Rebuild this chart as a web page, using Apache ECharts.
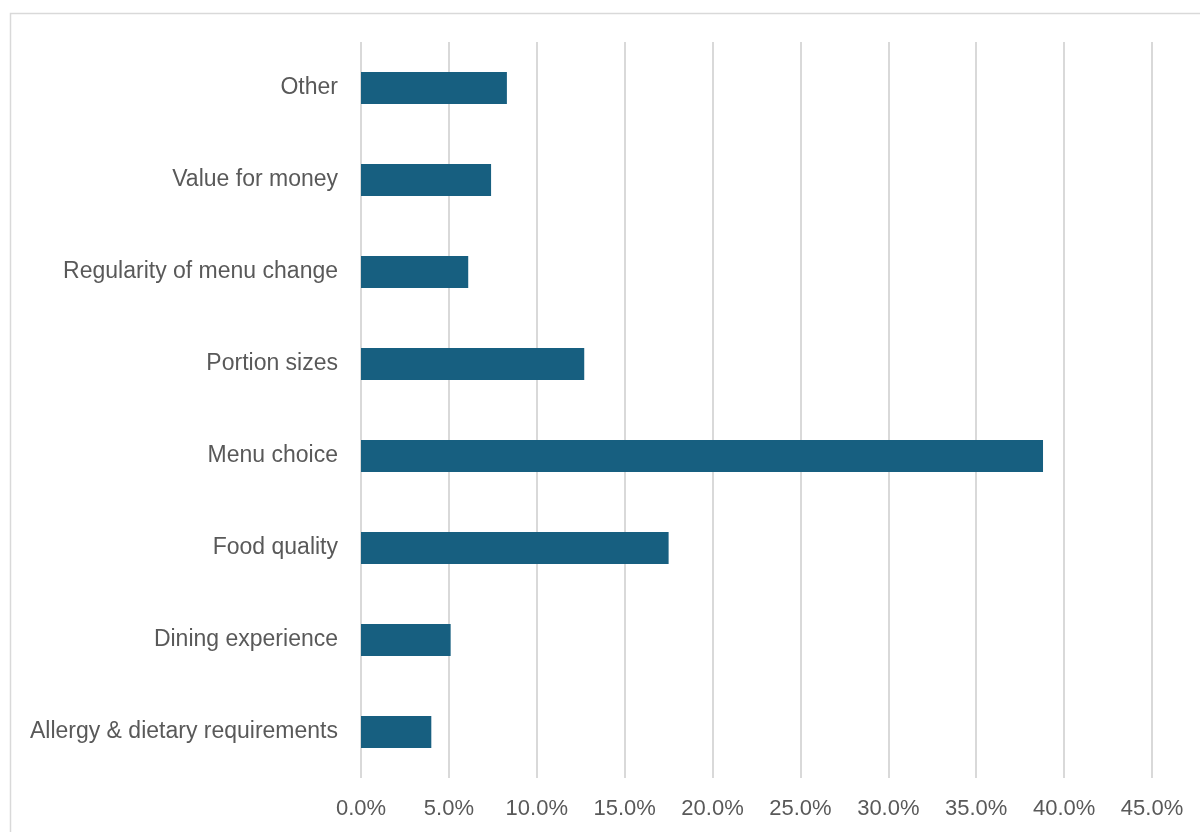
<!DOCTYPE html>
<html>
<head>
<meta charset="utf-8">
<script src="https://cdn.jsdelivr.net/npm/echarts@6/dist/echarts.min.js"></script>
<style>
  html, body { margin: 0; padding: 0; background: #ffffff; }
  #chart { width: 1200px; height: 832px; }
</style>
</head>
<body>
<div id="chart"></div>
<script>
// Survey reasons, listed bottom to top as drawn on the category axis
const categories = [
  'Allergy & dietary requirements',
  'Dining experience',
  'Food quality',
  'Menu choice',
  'Portion sizes',
  'Regularity of menu change',
  'Value for money',
  'Other'
];
// Share of responses, in percent
const shares = [4.0, 5.1, 17.5, 38.8, 12.7, 6.1, 7.4, 8.3];
// Value axis range and step, in percent
const axisMin = 0;
const axisMax = 45;
const axisStep = 5;

const chart = echarts.init(document.getElementById('chart'), null, { renderer: 'canvas' });
const fontFamily = '"Liberation Sans", Arial, sans-serif';

chart.setOption({
  backgroundColor: '#ffffff',
  animation: false,
  graphic: [{
    type: 'rect',
    shape: { x: 10.5, y: 13.5, width: 1400, height: 1000 },
    style: { fill: 'none', stroke: '#d9d9d9', lineWidth: 1.5 },
    silent: true
  }],
  grid: { left: 361, top: 42, width: 791, height: 736, containLabel: false },
  xAxis: {
    type: 'value',
    min: axisMin,
    max: axisMax,
    interval: axisStep,
    axisLine: { show: false },
    axisTick: { show: false },
    splitLine: { show: true, lineStyle: { color: '#d9d9d9', width: 2 } },
    axisLabel: {
      color: '#595959',
      fontSize: 22,
      fontFamily: fontFamily,
      margin: 20,
      formatter: v => v.toFixed(1) + '%'
    }
  },
  yAxis: {
    type: 'category',
    data: categories,
    axisLine: { show: false },
    axisTick: { show: false },
    axisLabel: {
      color: '#595959',
      fontSize: 23,
      fontFamily: fontFamily,
      margin: 23,
      padding: [4, 0, 0, 0]
    }
  },
  series: [{
    type: 'bar',
    data: shares,
    barWidth: 32,
    itemStyle: { color: '#175f80' }
  }]
});
</script>
</body>
</html>
